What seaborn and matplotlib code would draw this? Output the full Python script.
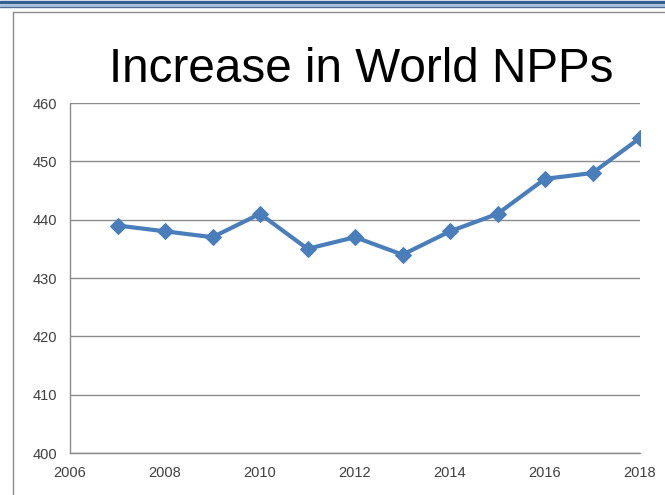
import numpy as np
import pandas as pd
import matplotlib.pyplot as plt
from matplotlib.lines import Line2D
import seaborn as sns

years = [2007, 2008, 2009, 2010, 2011, 2012, 2013, 2014, 2015, 2016, 2017, 2018]
npps = [439, 438, 437, 441, 435, 437, 434, 438, 441, 447, 448, 454]
x_ticks = [2006, 2008, 2010, 2012, 2014, 2016, 2018]
y_ticks = [400, 410, 420, 430, 440, 450, 460]
title = "Increase in World NPPs"

df = pd.DataFrame({"year": years, "npps": npps})

sns.set_theme(style="white")
plt.rcParams['font.family'] = ['Liberation Sans', 'DejaVu Sans']

fig = plt.figure(figsize=(6.65, 4.95), dpi=100)
ax = fig.add_axes([70 / 665, 1 - 453 / 495, 570 / 665, 350 / 495])

sns.lineplot(data=df, x="year", y="npps", ax=ax, color="#4a7ebb", linewidth=3,
             marker="D", markersize=8, markeredgecolor="#4a7ebb")

ax.set_xlim(2006, 2018)
ax.set_ylim(400, 460)
ax.set_xticks(x_ticks)
ax.set_yticks(y_ticks)
ax.set_xlabel("")
ax.set_ylabel("")
ax.yaxis.grid(True, color="#8c8c8c", linewidth=1)
ax.set_axisbelow(True)
for s in ["top", "right"]:
    ax.spines[s].set_visible(False)
for s in ["left", "bottom"]:
    ax.spines[s].set_color("#8c8c8c")
    ax.spines[s].set_linewidth(1)
ax.tick_params(axis="both", direction="out", length=4.5, width=1, color="#8c8c8c",
               labelsize=10.5, labelcolor="#404040")
ax.tick_params(axis="x", pad=5)
ax.tick_params(axis="y", pad=5)

fig.text(361 / 665, 1 - 81.5 / 495, title, ha="center", va="baseline", fontsize=34.3,
         color="black")

# slide frame: blue double line on top, gray chart border
fig.add_artist(Line2D([0, 1], [1 - 1.5 / 495, 1 - 1.5 / 495], color="#365f91", linewidth=2.5))
fig.add_artist(Line2D([0, 1], [1 - 4.5 / 495, 1 - 4.5 / 495], color="#a9c1de", linewidth=2))
fig.add_artist(Line2D([0, 1], [1 - 7 / 495, 1 - 7 / 495], color="#4f6f99", linewidth=1))
fig.add_artist(Line2D([13 / 665, 13 / 665], [0, 1 - 12 / 495], color="#8c8c8c", linewidth=1))
fig.add_artist(Line2D([13 / 665, 1], [1 - 12 / 495, 1 - 12 / 495], color="#8c8c8c", linewidth=1))

fig.savefig("out.png", dpi=100)
